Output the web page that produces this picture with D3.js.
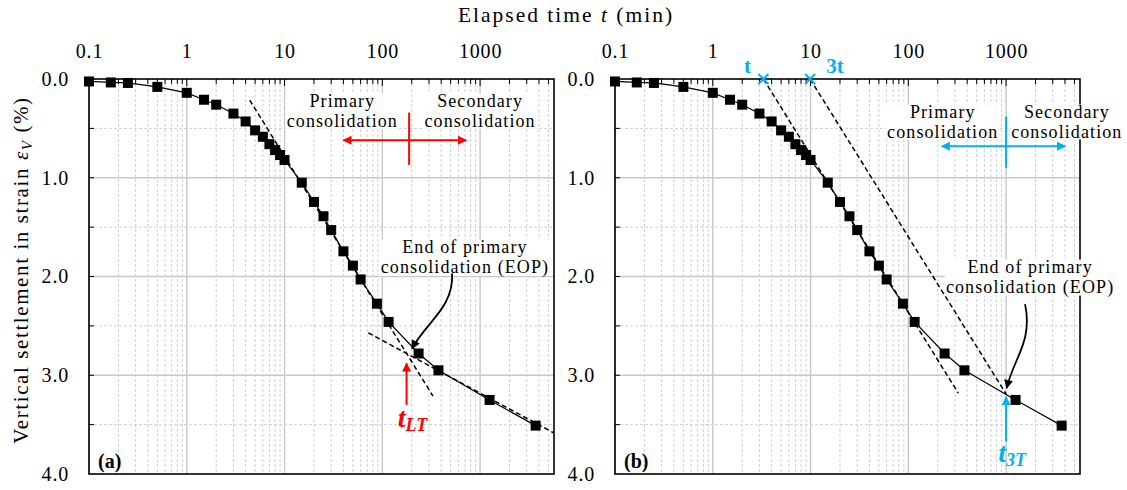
<!DOCTYPE html>
<html>
<head>
<meta charset="utf-8">
<script src="https://cdn.jsdelivr.net/npm/d3@7"></script>
<style>
  body { margin: 0; background: #fff; }
  svg, svg text { font-family: "Liberation Serif", "DejaVu Serif", serif; }
</style>
</head>
<body>
<svg id="chart" width="1127" height="490" font-family="Liberation Serif, DejaVu Serif, serif"></svg>
<script>
// elapsed time (min) and vertical strain (%)
const times = [0.1, 0.167, 0.25, 0.5, 1, 1.5, 2, 3, 4, 5, 6, 7, 8, 9, 10, 15, 20, 25, 30, 40, 50, 60, 88, 116, 235, 375, 1250, 3700];
const strain = [0.025, 0.035, 0.04, 0.08, 0.14, 0.21, 0.26, 0.35, 0.43, 0.52, 0.585, 0.66, 0.72, 0.77, 0.82, 1.05, 1.245, 1.39, 1.53, 1.745, 1.89, 2.03, 2.275, 2.46, 2.78, 2.95, 3.25, 3.51];

const xTickLabels = [0.1, 1, 10, 100, 1000];
const yTickLabels = [0, 1, 2, 3, 4];
const xDomain = [0.1, 5700];
const yDomain = [0, 4];

// (a) log-time method construction lines [t, strain]
const tangentA = [[4.4, 0.213], [329, 3.21]];
const secondaryA = [[71.8, 2.57], [5700, 3.585]];
const tLT = 177;
// (b) 3t method construction lines
const tB = 3.3;
const lineT = [[3.3, 0], [324, 3.18]];
const line3T = [[9.9, 0], [1000, 3.19]];
const t3T = 1000;

const SERIF = "Liberation Serif, DejaVu Serif, serif";
const svg = d3.select("#chart");
const width = 465, height = 395;
const x = d3.scaleLog().domain(xDomain).range([0, width]);
const y = d3.scaleLinear().domain(yDomain).range([0, height]);

const RED = "#ff0000", BLUE = "#00b0f0";

const defs = svg.append("defs");
function arrowMarker(id, color) {
  defs.append("marker")
    .attr("id", id).attr("viewBox", "0 0 10 10")
    .attr("refX", 9).attr("refY", 5)
    .attr("markerWidth", 12).attr("markerHeight", 9)
    .attr("markerUnits", "userSpaceOnUse")
    .attr("orient", "auto")
    .append("path").attr("d", "M0,0 L10,5 L0,10 Z").attr("fill", color);
}
arrowMarker("arRed", RED);
arrowMarker("arBlue", BLUE);
arrowMarker("arBlack", "#000");

// title
svg.append("text")
  .attr("x", 566).attr("y", 22)
  .attr("text-anchor", "middle").attr("font-family", SERIF)
  .attr("font-size", 21.5).attr("letter-spacing", 2)
  .call(t => {
    t.append("tspan").text("Elapsed time ");
    t.append("tspan").attr("font-style", "italic").text("t");
    t.append("tspan").text(" (min)");
  });

// y title
svg.append("text")
  .attr("transform", "translate(28,270) rotate(-90)")
  .attr("text-anchor", "middle").attr("font-family", SERIF)
  .attr("font-size", 21).attr("letter-spacing", 1.6)
  .call(t => {
    t.append("tspan").text("Vertical settlement in strain ");
    t.append("tspan").attr("font-style", "italic").text("ε");
    t.append("tspan").attr("font-style", "italic").attr("font-size", 15).attr("dy", 4).text("V");
    t.append("tspan").attr("dy", -4).text(" (%)");
  });

function labelBox(g, nodes) {
  const bs = nodes.map(n => n.getBBox());
  const x0 = d3.min(bs, b => b.x), x1 = d3.max(bs, b => b.x + b.width);
  const y0 = d3.min(bs, b => b.y), y1 = d3.max(bs, b => b.y + b.height);
  g.insert("rect", () => nodes[0])
    .attr("x", x0 - 1).attr("y", y0 + 3)
    .attr("width", x1 - x0 + 2).attr("height", y1 - y0 - 5)
    .attr("fill", "#fff");
}

// two stacked text lines, each its own text element
function twoLine(g, t, e, l1, l2) {
  const nodes = [l1, l2].map((s, i) => g.append("text")
    .attr("x", x(t)).attr("y", y(e) + i * 20)
    .attr("text-anchor", "middle").attr("font-family", SERIF)
    .attr("font-size", 18).attr("letter-spacing", 1.1)
    .text(s).node());
  labelBox(g, nodes);
}

function panel(left, tag) {
  const g = svg.append("g").attr("transform", `translate(${left},79)`);

  // grid
  const xt = x.ticks();
  const isMajor = v => Math.abs(Math.log10(v) - Math.round(Math.log10(v))) < 1e-6;
  g.append("g").selectAll("line").data(xt).join("line")
    .attr("x1", d => x(d)).attr("x2", d => x(d))
    .attr("y1", 0).attr("y2", height)
    .attr("stroke", d => isMajor(d) ? "#c8c8c8" : "#d0d0d0")
    .attr("stroke-width", d => isMajor(d) ? 1.4 : 1)
    .attr("stroke-dasharray", d => isMajor(d) ? null : "3,2");
  const yt = d3.range(0.5, 4, 0.5);
  g.append("g").selectAll("line").data(yt).join("line")
    .attr("x1", 0).attr("x2", width)
    .attr("y1", d => y(d)).attr("y2", d => y(d))
    .attr("stroke", d => d % 1 === 0 ? "#c8c8c8" : "#d0d0d0")
    .attr("stroke-width", d => d % 1 === 0 ? 1.4 : 1)
    .attr("stroke-dasharray", d => d % 1 === 0 ? null : "3,2");

  // ticks inside frame
  g.append("g").selectAll("line").data(xt).join("line")
    .attr("x1", d => x(d)).attr("x2", d => x(d))
    .attr("y1", 0).attr("y2", d => isMajor(d) ? 7 : 5)
    .attr("stroke", "#000").attr("stroke-width", 1);
  g.append("g").selectAll("line").data(yt).join("line")
    .attr("x1", 0).attr("x2", 5)
    .attr("y1", d => y(d)).attr("y2", d => y(d))
    .attr("stroke", "#000").attr("stroke-width", 1);

  // tick labels
  const ax = g.append("g")
    .call(d3.axisTop(x).tickValues(xTickLabels).tickSize(0).tickPadding(21)
      .tickFormat(d => d3.format("~g")(d)));
  ax.attr("font-family", SERIF).attr("font-size", 20);
  ax.select(".domain").remove();
  ax.selectAll("text").attr("letter-spacing", 0.8).attr("fill", "#000");
  const ay = g.append("g")
    .call(d3.axisLeft(y).tickValues(yTickLabels).tickSize(0).tickPadding(20)
      .tickFormat(d3.format(".1f")));
  ay.attr("font-family", SERIF).attr("font-size", 20);
  ay.select(".domain").remove();
  ay.selectAll("text").attr("letter-spacing", 0.8).attr("fill", "#000");

  // frame
  g.append("rect").attr("width", width).attr("height", height)
    .attr("fill", "none").attr("stroke", "#000").attr("stroke-width", 1.6);

  g.append("text").attr("x", 9).attr("y", height - 6).attr("font-family", SERIF)
    .attr("font-size", 20).attr("font-weight", "bold").text(tag);

  return g;
}

const line = d3.line().x(d => x(d[0])).y(d => y(d[1]));
const pts = times.map((t, i) => [t, strain[i]]);

function dataSeries(g) {
  g.append("path").datum(pts).attr("d", line)
    .attr("fill", "none").attr("stroke", "#000").attr("stroke-width", 1.2);
  g.append("g").selectAll("rect").data(pts).join("rect")
    .attr("x", d => x(d[0]) - 5).attr("y", d => y(d[1]) - 5)
    .attr("width", 10).attr("height", 10).attr("fill", "#000");
}

function dashed(g, seg) {
  g.append("path").datum(seg).attr("d", line)
    .attr("fill", "none").attr("stroke", "#000")
    .attr("stroke-width", 1.5).attr("stroke-dasharray", "5,3");
}

function crossArrows(g, color, marker, tL, tR, tM, e, eTop, eBot) {
  g.append("line").attr("x1", x(tM)).attr("x2", x(tL)).attr("y1", y(e)).attr("y2", y(e))
    .attr("stroke", color).attr("stroke-width", 2).attr("marker-end", `url(#${marker})`);
  g.append("line").attr("x1", x(tM)).attr("x2", x(tR)).attr("y1", y(e)).attr("y2", y(e))
    .attr("stroke", color).attr("stroke-width", 2).attr("marker-end", `url(#${marker})`);
  g.append("line").attr("x1", x(tM)).attr("x2", x(tM)).attr("y1", y(eTop)).attr("y2", y(eBot))
    .attr("stroke", color).attr("stroke-width", 2);
}

function subLabel(g, cx, baseY, sub, color) {
  const t = g.append("text").attr("x", cx).attr("y", baseY)
    .attr("text-anchor", "middle").attr("fill", color).attr("font-family", SERIF)
    .attr("font-weight", "bold").attr("font-style", "italic");
  t.append("tspan").attr("font-size", 28).text("t");
  t.append("tspan").attr("font-size", 18).attr("dy", 4).text(sub);
}

function curvedArrow(g, from, to, bend) {
  const [x0, y0] = [x(from[0]), y(from[1])];
  const [x1, y1] = [x(to[0]), y(to[1])];
  g.append("path")
    .attr("d", `M${x0},${y0} C${x0 + bend},${y0 + (y1 - y0) * 0.45} ${x1 + (x0 - x1) * 0.35},${y1 - (y1 - y0) * 0.35} ${x1},${y1}`)
    .attr("fill", "none").attr("stroke", "#000").attr("stroke-width", 1.8)
    .attr("marker-end", "url(#arBlack)");
}

// ---- panel (a)
const ga = panel(89, "(a)");
twoLine(ga, 39, 0.28, "Primary", "consolidation");
twoLine(ga, 1000, 0.28, "Secondary", "consolidation");
crossArrows(ga, RED, "arRed", 40, 720, 188, 0.62, 0.34, 0.87);
dashed(ga, tangentA);
dashed(ga, secondaryA);
dataSeries(ga);
twoLine(ga, 700, 1.76, "End of primary", "consolidation (EOP)");
curvedArrow(ga, [517, 1.97], [201, 2.73], 2);
ga.append("line").attr("x1", x(tLT)).attr("x2", x(tLT))
  .attr("y1", y(3.3)).attr("y2", y(2.88))
  .attr("stroke", RED).attr("stroke-width", 2).attr("marker-end", "url(#arRed)");
subLabel(ga, x(tLT) + 6, y(3.52), "LT", RED);

// ---- panel (b)
const gb = panel(615, "(b)");
dashed(gb, lineT);
dashed(gb, line3T);
dataSeries(gb);
twoLine(gb, 225, 0.39, "Primary", "consolidation");
twoLine(gb, 4180, 0.39, "Secondary", "consolidation");
crossArrows(gb, BLUE, "arBlue", 220, 4020, t3T, 0.68, 0.38, 0.9);
twoLine(gb, 1760, 1.96, "End of primary", "consolidation (EOP)");
curvedArrow(gb, [1563, 2.28], [1016, 3.13], 8);
gb.append("line").attr("x1", x(t3T)).attr("x2", x(t3T))
  .attr("y1", y(3.67)).attr("y2", y(3.22))
  .attr("stroke", BLUE).attr("stroke-width", 2).attr("marker-end", "url(#arBlue)");
subLabel(gb, x(t3T) + 6, y(3.88), "3T", BLUE);

// t and 3t markers
[[tB, "t", -16], [3 * tB, "3t", 25]].forEach(([t, lab, dx]) => {
  const cx = x(t), cy = y(0);
  gb.append("path")
    .attr("d", `M${cx - 5},${cy - 5} L${cx + 5},${cy + 5} M${cx - 5},${cy + 5} L${cx + 5},${cy - 5}`)
    .attr("stroke", BLUE).attr("stroke-width", 2);
  gb.append("text").attr("x", cx + dx).attr("y", cy - 6)
    .attr("text-anchor", "middle").attr("fill", BLUE)
    .attr("font-family", "Liberation Sans, DejaVu Sans, sans-serif").attr("font-weight", "bold")
    .attr("font-size", 21).text(lab);
});
</script>
</body>
</html>
